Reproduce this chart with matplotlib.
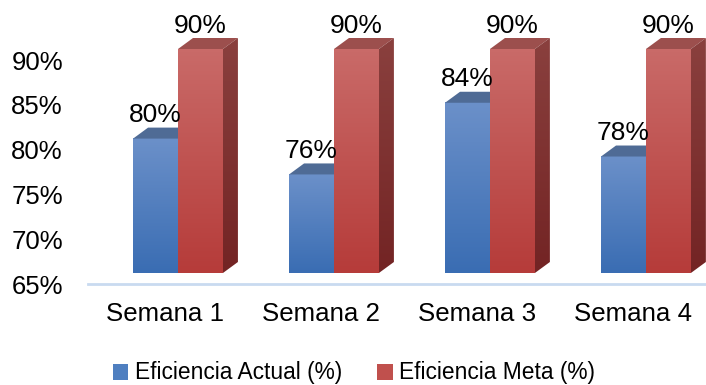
import matplotlib
matplotlib.use("Agg")
import matplotlib.pyplot as plt
import matplotlib.transforms as mtransforms
import numpy as np
from matplotlib.patches import Polygon, Patch
from matplotlib.colors import LinearSegmentedColormap

categories = ["Semana 1", "Semana 2", "Semana 3", "Semana 4"]
actual = [80, 76, 84, 78]
meta = [90, 90, 90, 90]
series_names = ["Eficiencia Actual (%)", "Eficiencia Meta (%)"]
yticks = [65, 70, 75, 80, 85, 90]

plt.rcParams['font.family'] = ['Liberation Sans', 'DejaVu Sans']

fig = plt.figure(figsize=(7.06, 3.85), dpi=100)
W, H = 706, 385
ax = fig.add_axes([88 / W, 1 - 284 / H, 618 / W, 264 / H])

base = 65
ymax = base + 264 / 8.96
ax.set_xlim(-0.577, 3.385)
ax.set_ylim(base, ymax)

bw = 0.288
dx = 15 / 156.0
dy = 11 / 8.96

styles = [
    dict(top="#6b90c9", bot="#3a6db3", topface="#4f6b95", side="#3b5f92", side2="#2f4f7c"),
    dict(top="#c96a68", bot="#b63c3a", topface="#9c4f4d", side="#8a403e", side2="#732424"),
]

def draw_bar(xc, v, st):
    x0, x1 = xc - bw / 2, xc + bw / 2
    y0, y1 = base + dy, v + dy
    cmap = LinearSegmentedColormap.from_list("g", [st["bot"], st["top"]])
    grad = np.linspace(0, 1, 64).reshape(-1, 1)
    ax.imshow(grad, extent=(x0, x1, y0, y1), origin="lower", cmap=cmap,
              aspect="auto", zorder=2, interpolation="bilinear")
    ax.add_patch(Polygon([(x0, y1), (x1, y1), (x1 + dx, y1 + dy), (x0 + dx, y1 + dy)],
                         closed=True, facecolor=st["topface"], edgecolor="none", zorder=2))
    cmap2 = LinearSegmentedColormap.from_list("s", [st["side2"], st["side"]])
    poly = Polygon([(x1, y0), (x1 + dx, y0 + dy), (x1 + dx, y1 + dy), (x1, y1)],
                   closed=True, facecolor="none", edgecolor="none", zorder=2)
    ax.add_patch(poly)
    im = ax.imshow(grad, extent=(x1, x1 + dx, y0, y1 + dy), origin="lower", cmap=cmap2,
                   aspect="auto", zorder=2, interpolation="bilinear")
    im.set_clip_path(poly)
    ax.text(xc, y1 + dy + 0.05, f"{v}%", ha="center", va="bottom",
            fontsize=19, color="black", zorder=5, clip_on=False)

x = np.arange(len(categories))
for i in range(len(categories)):
    draw_bar(x[i] - bw / 2, actual[i], styles[0])
    draw_bar(x[i] + bw / 2, meta[i], styles[1])

ax.set_xlim(-0.577, 3.385)
ax.set_ylim(base, ymax)

ax.set_yticks(yticks)
ax.set_yticklabels([f"{t}%" for t in yticks], fontsize=18.5)
ax.set_xticks(x)
ax.set_xticklabels(categories, fontsize=18.6)
ax.tick_params(axis="y", length=0, pad=18)
ax.tick_params(axis="x", length=0, pad=13)
shift = mtransforms.ScaledTranslation(-13 / 100, 0, fig.dpi_scale_trans)
for lbl in ax.get_xticklabels():
    lbl.set_transform(lbl.get_transform() + shift)
for s in ["top", "right", "left"]:
    ax.spines[s].set_visible(False)
ax.spines["bottom"].set_color("#c9daf0")
ax.spines["bottom"].set_linewidth(2)
ax.patch.set_alpha(0)

handles = [Patch(facecolor="#4f7fc0", edgecolor="none"),
           Patch(facecolor="#c0504d", edgecolor="none")]
fig.legend(handles, series_names, loc="center", bbox_to_anchor=(354 / W, 1 - 373 / H),
           ncol=2, frameon=False, fontsize=16.4, handlelength=0.7, handleheight=0.7,
           handletextpad=0.3, columnspacing=1.5, borderpad=0)

fig.savefig("out.png", dpi=100)
